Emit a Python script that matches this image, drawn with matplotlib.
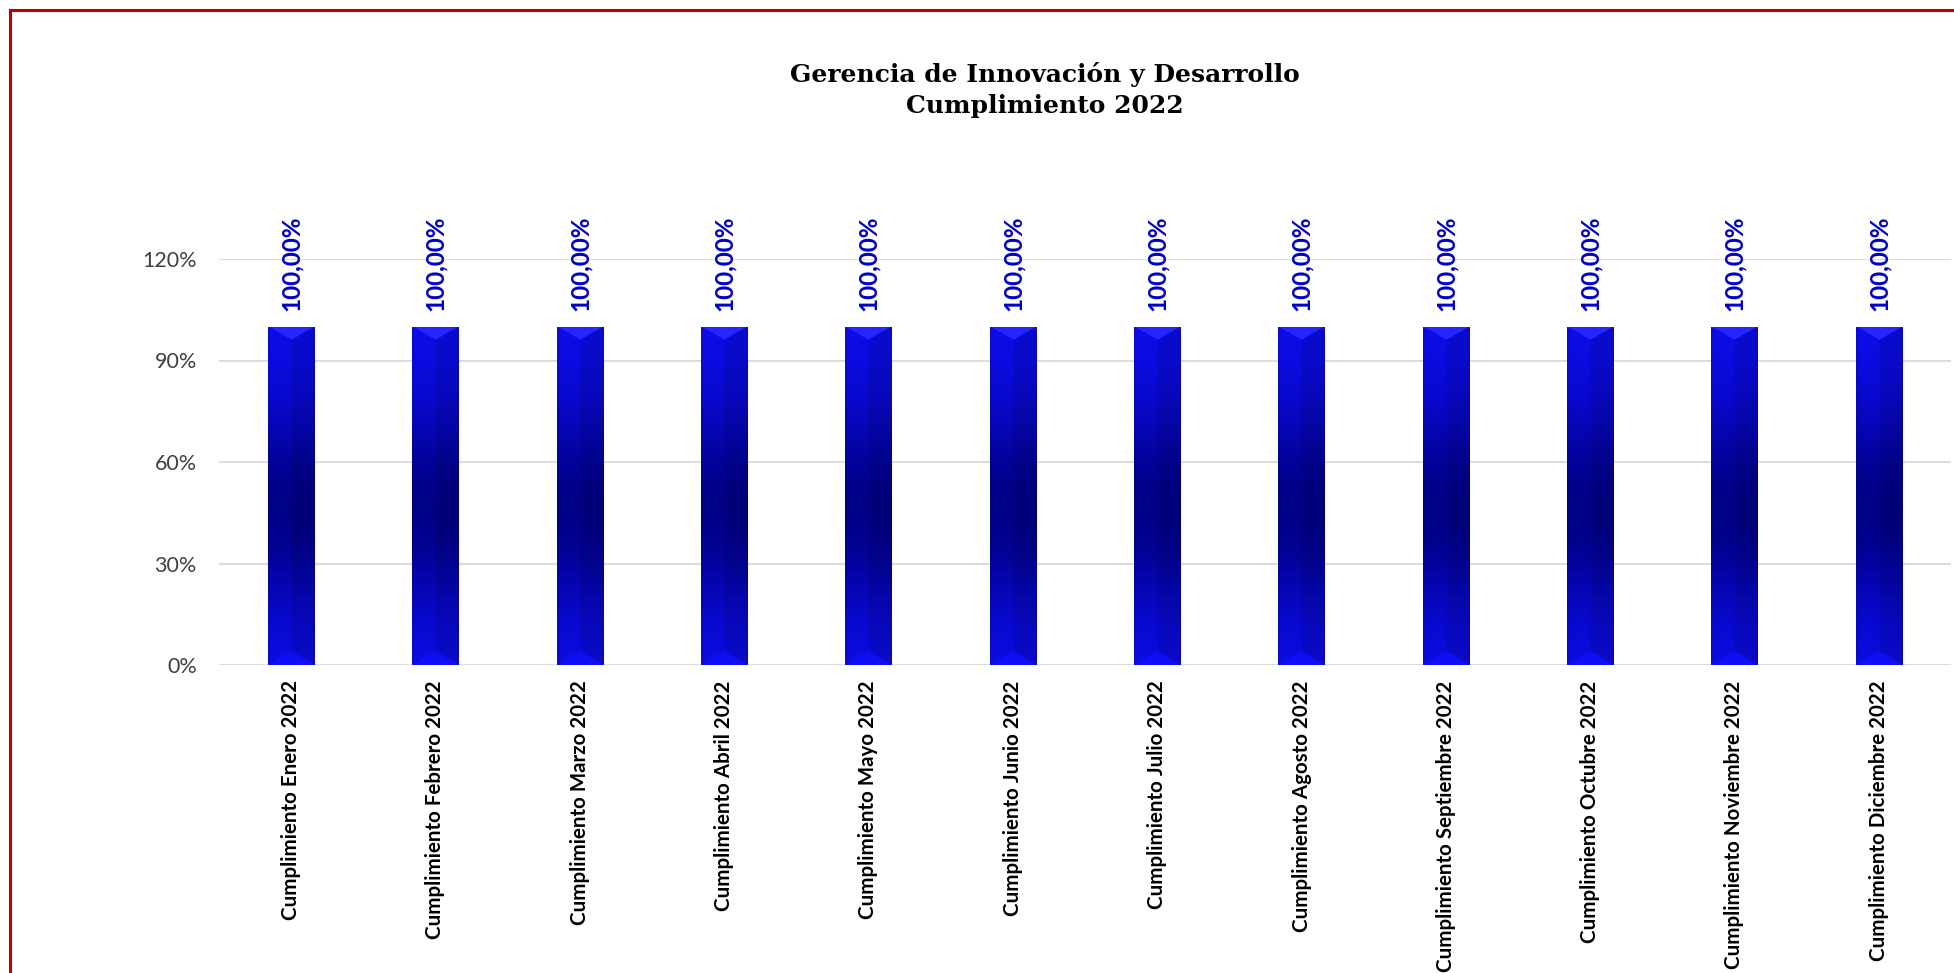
import numpy as np
import matplotlib
matplotlib.use("Agg")
import matplotlib.pyplot as plt
import matplotlib.patches as mpatches
import matplotlib.ticker as mticker

# data
meses = ["Enero", "Febrero", "Marzo", "Abril", "Mayo", "Junio", "Julio",
         "Agosto", "Septiembre", "Octubre", "Noviembre", "Diciembre"]
etiquetas = ["Cumplimiento " + m + " 2022" for m in meses]
cumplimiento = [1.0, 1.0, 1.0, 1.0, 1.0, 1.0, 1.0, 1.0, 1.0, 1.0, 1.0, 1.0]
titulo = "Gerencia de Innovación y Desarrollo\nCumplimiento 2022"

plt.rcParams["font.family"] = ["Lato", "DejaVu Sans"]

W, H = 1954, 973
fig = plt.figure(figsize=(W / 100, H / 100), dpi=100)
ax = fig.add_axes([219 / W, 308 / H, (1951 - 219) / W, (714 - 308) / H])


def bar_texture(nx=60, ny=400, px_w=46, px_h=338):
    """bevelled blue gradient like the Excel bars"""
    u = np.linspace(0, 1, nx)[None, :]
    v = np.linspace(1, 0, ny)[:, None]  # row 0 = top
    bright = np.array([0.05, 0.05, 0.92])
    dark = np.array([0.0, 0.0, 0.53])
    d = np.exp(-((v - 0.46) / 0.3) ** 2)
    img = bright * (1 - d[..., None]) + dark * d[..., None]
    img = np.broadcast_to(img, (ny, nx, 3)).copy()
    shade = np.where(u < 0.5, 1.0, 0.9)
    img *= shade[..., None]
    # bevels at top and bottom
    edge = np.minimum(u, 1 - u) * px_w * 0.57
    top = (1 - v) * px_h < edge
    bot = v * px_h < edge
    img[top] = np.array([0.15, 0.15, 1.0])
    img[bot] = np.array([0.06, 0.06, 0.97])
    side = np.minimum(u, 1 - u) * px_w < 1.5
    img[np.broadcast_to(side, (ny, nx))] *= 0.9
    return np.clip(img, 0, 1)


x = np.arange(len(etiquetas))
bars = ax.bar(x, cumplimiento, width=0.32, color="#0000E0", zorder=3)
tex = bar_texture()
for b in bars:
    x0, y0 = b.get_x(), b.get_y()
    im = ax.imshow(tex, extent=(x0, x0 + b.get_width(), y0, y0 + b.get_height()),
                   aspect="auto", zorder=3.5, interpolation="bilinear")
    im.set_clip_path(b)
    ax.text(b.get_x() + b.get_width() / 2, b.get_height() + 0.045,
            f"{b.get_height() * 100:.2f}%".replace(".", ","),
            rotation=90, ha="center", va="bottom", color="#0000CC",
            fontsize=17.5, fontweight="bold", zorder=5)

ax.set_xlim(-0.5, len(etiquetas) - 0.5)
ax.set_ylim(0, 1.2)
ax.yaxis.set_major_locator(mticker.MultipleLocator(0.3))
ax.yaxis.set_major_formatter(mticker.FuncFormatter(lambda v, p: f"{v * 100:.0f}%"))
ax.grid(axis="y", color="#D9D9D9", linewidth=1.3, zorder=0)
ax.set_axisbelow(True)
for s in ax.spines.values():
    s.set_visible(False)
ax.tick_params(axis="y", length=0, pad=16, labelsize=15.5, labelcolor="#404040")
ax.tick_params(axis="x", length=0, pad=11)
ax.set_xticks(x)
ax.set_xticklabels(etiquetas, rotation=90, fontsize=14.8, fontweight="bold",
                   color="#000000", va="top", ha="center")

fig.text(1045 / W, 1 - 90 / H, titulo, ha="center", va="center",
         family="DejaVu Serif", fontweight="bold", fontsize=18,
         linespacing=1.4)

# red outer border (continues past the right and bottom edges)
fig.patches.append(mpatches.Rectangle((10 / W, -0.05), 1.1, 1 - 10 / H + 0.05,
                                      transform=fig.transFigure, fill=False,
                                      edgecolor="#C00000", linewidth=2.2))

fig.savefig("out.png", dpi=100, facecolor="white")
